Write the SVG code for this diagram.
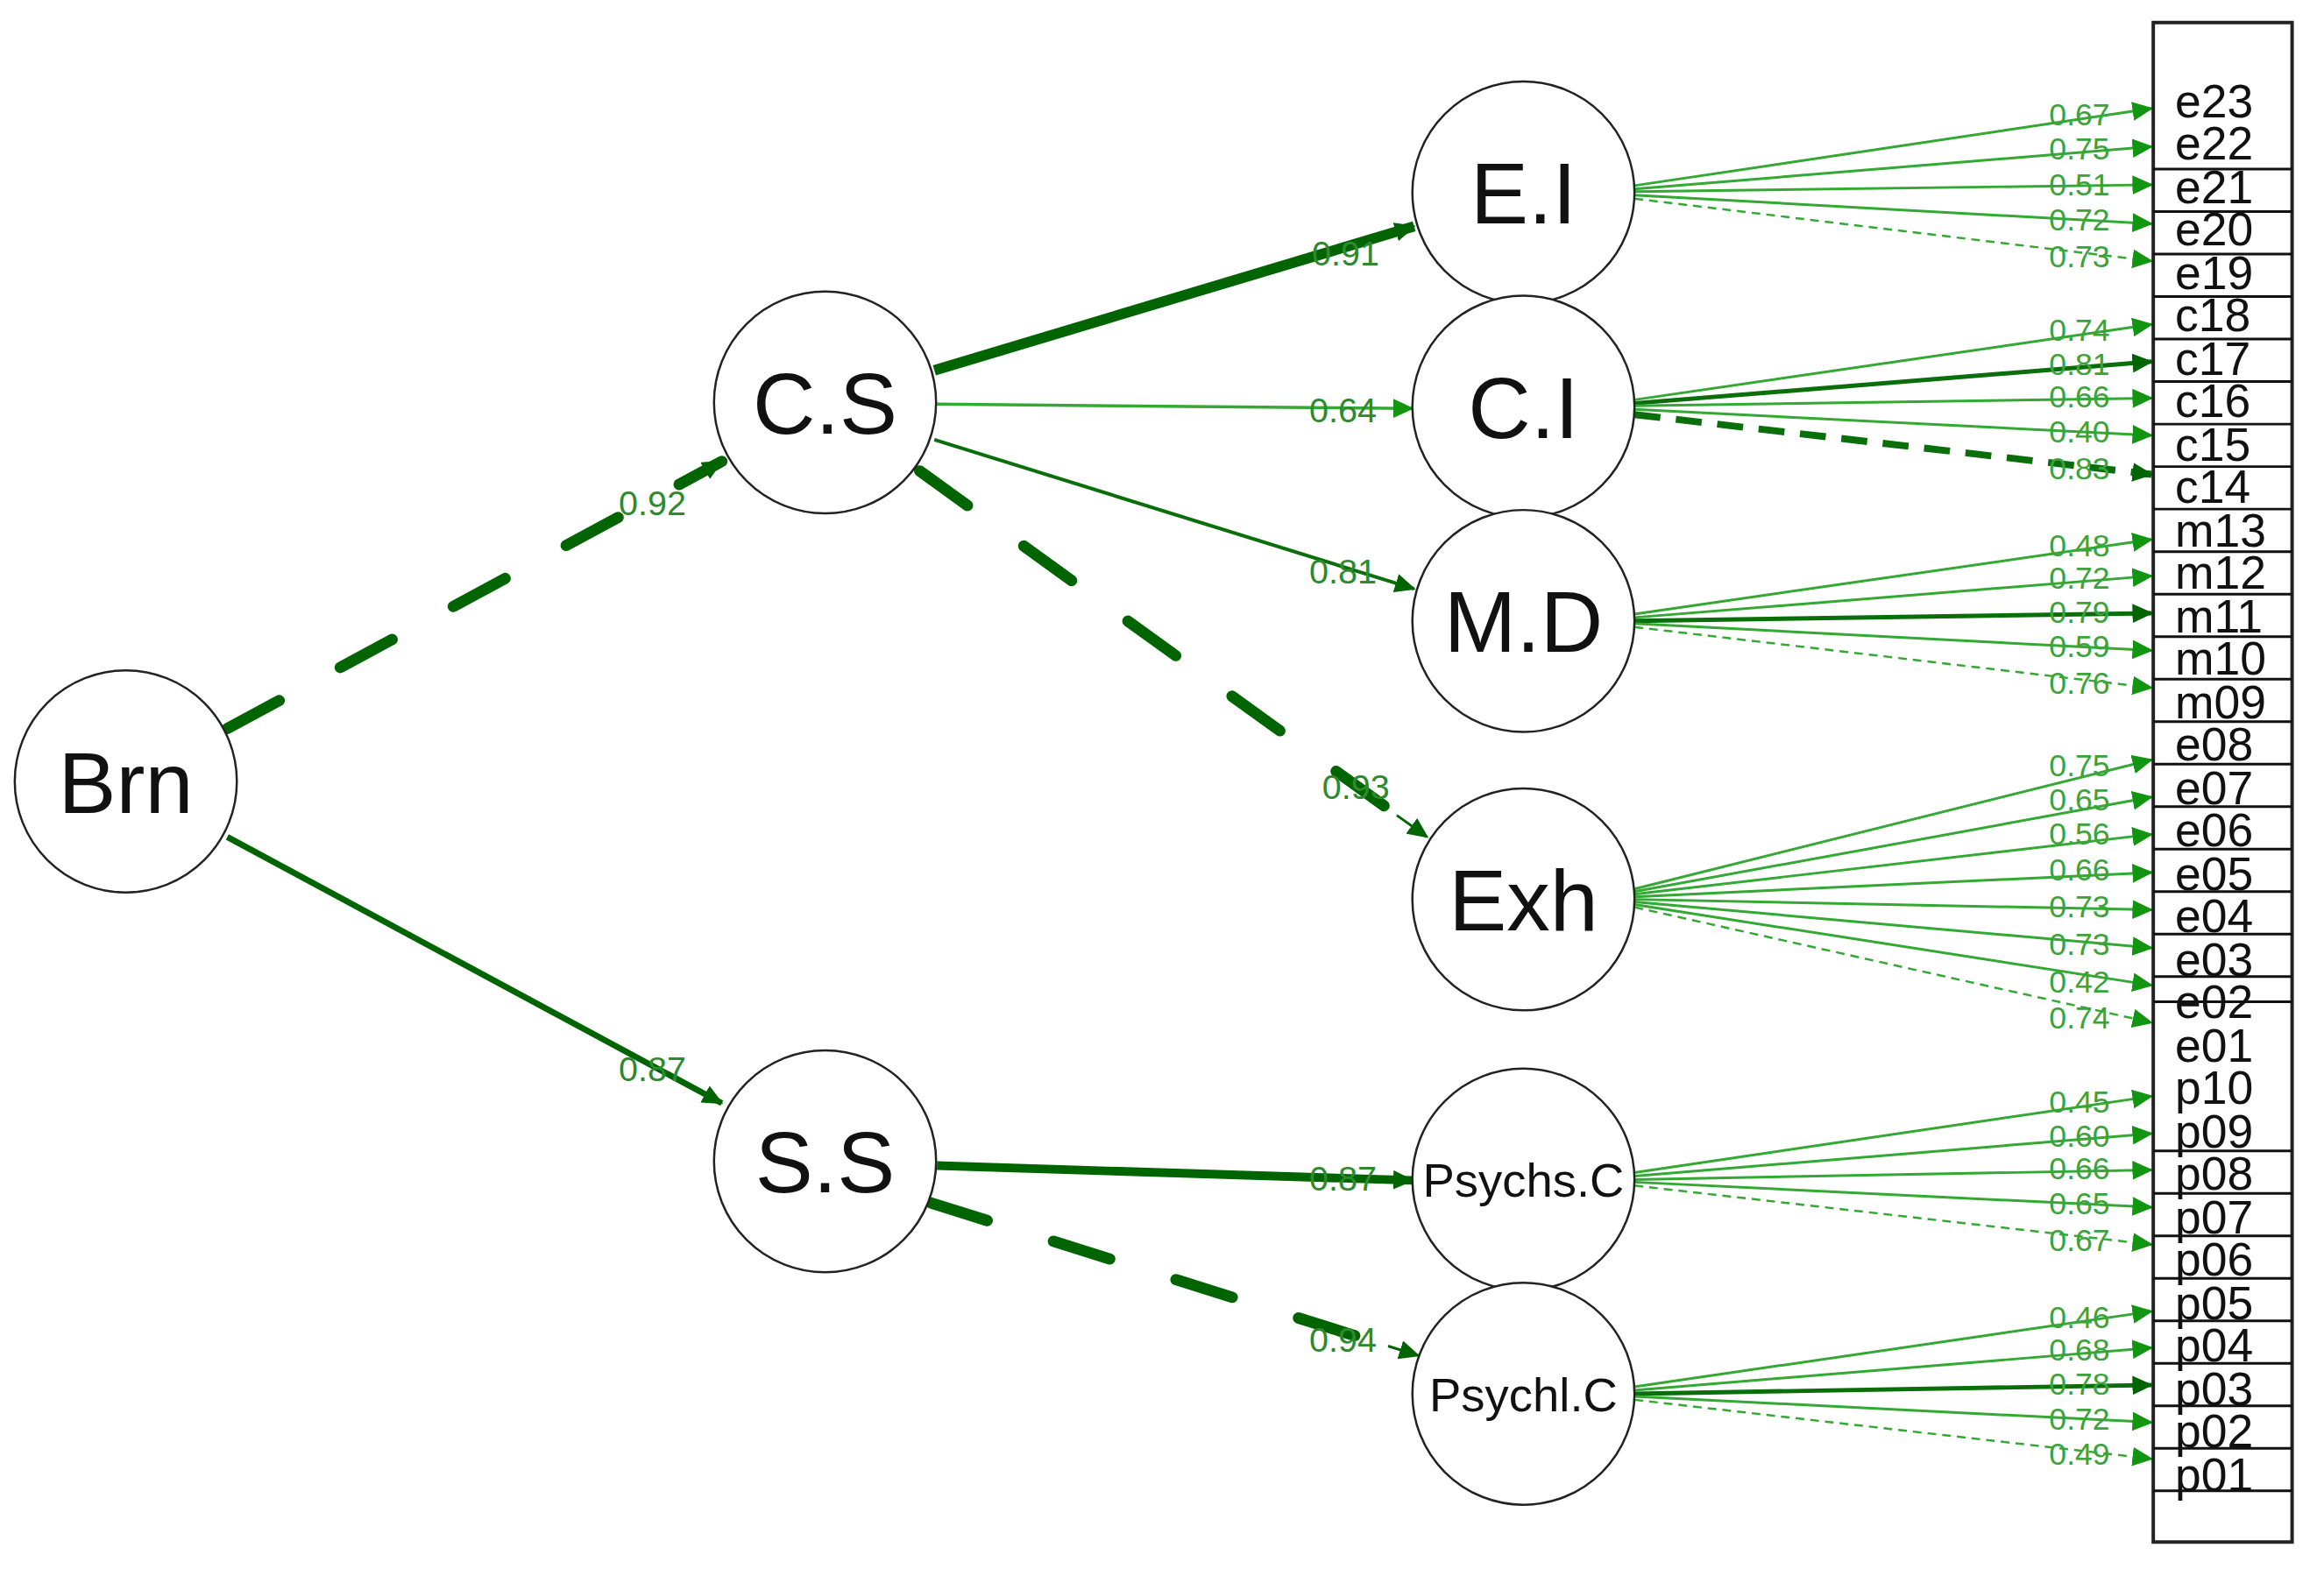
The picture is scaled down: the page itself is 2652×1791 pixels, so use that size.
<svg xmlns="http://www.w3.org/2000/svg" width="2652" height="1791" viewBox="0 0 2652 1791">
<style>
.node circle{fill:#fff;stroke:#222;stroke-width:2.5}
.node text{font-family:"Liberation Sans",Arial,sans-serif;text-anchor:middle;fill:#111}
.big{font-size:100px}
.small{font-size:55px}
.lab{font-family:"Liberation Sans",Arial,sans-serif;font-size:36px;fill:#3aa33a;text-anchor:middle}
.dlab{font-family:"Liberation Sans",Arial,sans-serif;font-size:40px;fill:#2d8a2d;text-anchor:middle}
.item{font-family:"Liberation Sans",Arial,sans-serif;font-size:54px;fill:#111}
.lt{stroke:#33a833;stroke-width:3;fill:none}
.dk{stroke:#0a6e0a;stroke-width:5;fill:none}
.ltd{stroke:#33a833;stroke-width:2.5;stroke-dasharray:10 7;fill:none}
.bx line{stroke:#111;stroke-width:3}
</style>
<defs>
<marker id="aL" markerUnits="userSpaceOnUse" markerWidth="24" markerHeight="22" refX="22" refY="11" orient="auto"><path d="M0,0 L24,11 L0,22 z" fill="#129612"/></marker>
<marker id="aD" markerUnits="userSpaceOnUse" markerWidth="24" markerHeight="22" refX="22" refY="11" orient="auto"><path d="M0,0 L24,11 L0,22 z" fill="#006400"/></marker>
</defs>
<g transform="scale(0.99)">
<g id="connectors">
<line x1="262" y1="840" x2="832" y2="532" stroke="#006400" stroke-width="13" stroke-dasharray="68 80" stroke-linecap="round"/>
<line x1="800" y1="550" x2="832" y2="532" stroke="#006400" stroke-width="3" marker-end="url(#aD)"/>
<line x1="262" y1="965" x2="832" y2="1272" stroke="#006400" stroke-width="7" marker-end="url(#aD)"/>
<line x1="1077" y1="427" x2="1630" y2="261" stroke="#006400" stroke-width="12" marker-end="url(#aD)"/>
<line x1="1080" y1="466" x2="1628" y2="471" stroke="#33a833" stroke-width="3.5" marker-end="url(#aL)"/>
<line x1="1077" y1="507" x2="1630" y2="679" stroke="#0a6e0a" stroke-width="4" marker-end="url(#aD)"/>
<line x1="1060" y1="543" x2="1645" y2="965" stroke="#006400" stroke-width="13" stroke-dasharray="68 80" stroke-linecap="round"/>
<line x1="1610" y1="940" x2="1645" y2="965" stroke="#006400" stroke-width="3" marker-end="url(#aD)"/>
<line x1="1080" y1="1344" x2="1628" y2="1361" stroke="#006400" stroke-width="10" marker-end="url(#aD)"/>
<line x1="1073" y1="1387" x2="1635" y2="1563" stroke="#006400" stroke-width="13" stroke-dasharray="68 80" stroke-linecap="round"/>
<line x1="1600" y1="1552" x2="1635" y2="1563" stroke="#006400" stroke-width="3" marker-end="url(#aD)"/>

<line class="lt" x1="1884" y1="214" x2="2480" y2="125" marker-end="url(#aL)"/>
<line class="lt" x1="1884" y1="218" x2="2480" y2="169" marker-end="url(#aL)"/>
<line class="lt" x1="1884" y1="221" x2="2480" y2="213" marker-end="url(#aL)"/>
<line class="lt" x1="1884" y1="225" x2="2480" y2="258" marker-end="url(#aL)"/>
<line class="ltd" x1="1884" y1="229" x2="2480" y2="301" marker-end="url(#aL)"/>
<line class="lt" x1="1884" y1="461" x2="2480" y2="374" marker-end="url(#aL)"/>
<line class="dk" x1="1884" y1="465" x2="2480" y2="417" marker-end="url(#aD)"/>
<line class="lt" x1="1884" y1="468" x2="2480" y2="459" marker-end="url(#aL)"/>
<line class="lt" x1="1884" y1="472" x2="2480" y2="502" marker-end="url(#aL)"/>
<line x1="1884" y1="478" x2="2480" y2="547" stroke="#0a6e0a" stroke-width="8" stroke-dasharray="30 18" marker-end="url(#aD)"/>
<line class="lt" x1="1884" y1="708" x2="2480" y2="622" marker-end="url(#aL)"/>
<line class="lt" x1="1884" y1="712" x2="2480" y2="664" marker-end="url(#aL)"/>
<line class="dk" x1="1884" y1="716" x2="2480" y2="707" marker-end="url(#aD)"/>
<line class="lt" x1="1884" y1="719" x2="2480" y2="750" marker-end="url(#aL)"/>
<line class="ltd" x1="1884" y1="723" x2="2480" y2="793" marker-end="url(#aL)"/>
<line class="lt" x1="1884" y1="1025" x2="2480" y2="876" marker-end="url(#aL)"/>
<line class="lt" x1="1884" y1="1028" x2="2480" y2="919" marker-end="url(#aL)"/>
<line class="lt" x1="1884" y1="1031" x2="2480" y2="962" marker-end="url(#aL)"/>
<line class="lt" x1="1884" y1="1034" x2="2480" y2="1006" marker-end="url(#aL)"/>
<line class="lt" x1="1884" y1="1037" x2="2480" y2="1049" marker-end="url(#aL)"/>
<line class="lt" x1="1884" y1="1040" x2="2480" y2="1093" marker-end="url(#aL)"/>
<line class="lt" x1="1884" y1="1043" x2="2480" y2="1136" marker-end="url(#aL)"/>
<line class="ltd" x1="1884" y1="1046" x2="2480" y2="1179" marker-end="url(#aL)"/>
<line class="lt" x1="1884" y1="1352" x2="2480" y2="1264" marker-end="url(#aL)"/>
<line class="lt" x1="1884" y1="1356" x2="2480" y2="1307" marker-end="url(#aL)"/>
<line class="lt" x1="1884" y1="1360" x2="2480" y2="1349" marker-end="url(#aL)"/>
<line class="lt" x1="1884" y1="1363" x2="2480" y2="1392" marker-end="url(#aL)"/>
<line class="ltd" x1="1884" y1="1367" x2="2480" y2="1435" marker-end="url(#aL)"/>
<line class="lt" x1="1884" y1="1599" x2="2480" y2="1512" marker-end="url(#aL)"/>
<line class="lt" x1="1884" y1="1603" x2="2480" y2="1554" marker-end="url(#aL)"/>
<line class="dk" x1="1884" y1="1607" x2="2480" y2="1597" marker-end="url(#aD)"/>
<line class="lt" x1="1884" y1="1610" x2="2480" y2="1640" marker-end="url(#aL)"/>
<line class="ltd" x1="1884" y1="1614" x2="2480" y2="1682" marker-end="url(#aL)"/>
</g>

<g id="edge-labels">
<text class="dlab" x="752" y="594">0.92</text>
<text class="dlab" x="752" y="1246">0.87</text>
<text class="dlab" x="1551" y="306">0.91</text>
<text class="dlab" x="1548" y="487" fill="#3aa33a">0.64</text>
<text class="dlab" x="1548" y="673">0.81</text>
<text class="dlab" x="1563" y="921">0.93</text>
<text class="dlab" x="1548" y="1373">0.87</text>
<text class="dlab" x="1548" y="1559">0.94</text>
<g class="lab">
<text x="2397" y="144">0.67</text><text x="2397" y="184">0.75</text><text x="2397" y="225">0.51</text><text x="2397" y="266">0.72</text><text x="2397" y="308">0.73</text>
<text x="2397" y="393">0.74</text><text x="2397" y="432">0.81</text><text x="2397" y="470">0.66</text><text x="2397" y="510">0.40</text><text x="2397" y="553">0.83</text>
<text x="2397" y="641">0.48</text><text x="2397" y="679">0.72</text><text x="2397" y="718">0.79</text><text x="2397" y="758">0.59</text><text x="2397" y="800">0.76</text>
<text x="2397" y="895">0.75</text><text x="2397" y="934">0.65</text><text x="2397" y="974">0.56</text><text x="2397" y="1015">0.66</text><text x="2397" y="1058">0.73</text><text x="2397" y="1101">0.73</text><text x="2397" y="1144">0.42</text><text x="2397" y="1186">0.74</text>
<text x="2397" y="1283">0.45</text><text x="2397" y="1322">0.60</text><text x="2397" y="1360">0.66</text><text x="2397" y="1400">0.65</text><text x="2397" y="1442">0.67</text>
<text x="2397" y="1531">0.46</text><text x="2397" y="1569">0.68</text><text x="2397" y="1608">0.78</text><text x="2397" y="1648">0.72</text><text x="2397" y="1689">0.49</text>
</g>
</g>

<g id="Brn" class="node"><circle cx="145" cy="901" r="128"/><text class="big" x="145" y="937">Brn</text></g>
<g id="CS" class="node"><circle cx="951" cy="464" r="128"/><text class="big" x="951" y="500">C.S</text></g>
<g id="SS" class="node"><circle cx="951" cy="1339" r="128"/><text class="big" x="951" y="1375">S.S</text></g>
<g id="EI" class="node"><circle cx="1756" cy="222" r="128"/><text class="big" x="1756" y="258">E.I</text></g>
<g id="CI" class="node"><circle cx="1756" cy="469" r="128"/><text class="big" x="1756" y="505">C.I</text></g>
<g id="MD" class="node"><circle cx="1756" cy="716" r="128"/><text class="big" x="1756" y="752">M.D</text></g>
<g id="Exh" class="node"><circle cx="1756" cy="1037" r="128"/><text class="big" x="1756" y="1073">Exh</text></g>
<g id="PsychsC" class="node"><circle cx="1756" cy="1360" r="128"/><text class="small" x="1756" y="1380">Psychs.C</text></g>
<g id="PsychlC" class="node"><circle cx="1756" cy="1607" r="128"/><text class="small" x="1756" y="1627">Psychl.C</text></g>

<g id="items" class="bx">
<rect x="2482" y="26" width="160" height="1752" fill="#fff" stroke="#222" stroke-width="4"/>
<line x1="2482" y1="195" x2="2642" y2="195"/><line x1="2482" y1="244" x2="2642" y2="244"/><line x1="2482" y1="293" x2="2642" y2="293"/><line x1="2482" y1="342" x2="2642" y2="342"/><line x1="2482" y1="391" x2="2642" y2="391"/><line x1="2482" y1="440" x2="2642" y2="440"/><line x1="2482" y1="489" x2="2642" y2="489"/><line x1="2482" y1="538" x2="2642" y2="538"/><line x1="2482" y1="587" x2="2642" y2="587"/><line x1="2482" y1="636" x2="2642" y2="636"/><line x1="2482" y1="685" x2="2642" y2="685"/><line x1="2482" y1="734" x2="2642" y2="734"/><line x1="2482" y1="783" x2="2642" y2="783"/><line x1="2482" y1="832" x2="2642" y2="832"/><line x1="2482" y1="881" x2="2642" y2="881"/><line x1="2482" y1="930" x2="2642" y2="930"/><line x1="2482" y1="979" x2="2642" y2="979"/><line x1="2482" y1="1028" x2="2642" y2="1028"/><line x1="2482" y1="1077" x2="2642" y2="1077"/><line x1="2482" y1="1126" x2="2642" y2="1126"/><line x1="2482" y1="1155" x2="2642" y2="1155"/>
<line x1="2482" y1="1327" x2="2642" y2="1327"/><line x1="2482" y1="1376" x2="2642" y2="1376"/><line x1="2482" y1="1425" x2="2642" y2="1425"/><line x1="2482" y1="1474" x2="2642" y2="1474"/><line x1="2482" y1="1523" x2="2642" y2="1523"/><line x1="2482" y1="1572" x2="2642" y2="1572"/><line x1="2482" y1="1621" x2="2642" y2="1621"/><line x1="2482" y1="1670" x2="2642" y2="1670"/><line x1="2482" y1="1719" x2="2642" y2="1719"/>
<g class="item">
<text x="2507" y="135">e23</text><text x="2507" y="184">e22</text><text x="2507" y="234">e21</text><text x="2507" y="283">e20</text><text x="2507" y="333">e19</text>
<text x="2507" y="382">c18</text><text x="2507" y="432">c17</text><text x="2507" y="481">c16</text><text x="2507" y="531">c15</text><text x="2507" y="580">c14</text>
<text x="2507" y="630">m13</text><text x="2507" y="679">m12</text><text x="2507" y="729">m11</text><text x="2507" y="778">m10</text><text x="2507" y="828">m09</text>
<text x="2507" y="877">e08</text><text x="2507" y="927">e07</text><text x="2507" y="976">e06</text><text x="2507" y="1026">e05</text><text x="2507" y="1075">e04</text><text x="2507" y="1125">e03</text><text x="2507" y="1174">e02</text><text x="2507" y="1224">e01</text>
<text x="2507" y="1273">p10</text><text x="2507" y="1323">p09</text><text x="2507" y="1372">p08</text><text x="2507" y="1422">p07</text><text x="2507" y="1471">p06</text><text x="2507" y="1521">p05</text><text x="2507" y="1570">p04</text><text x="2507" y="1620">p03</text><text x="2507" y="1669">p02</text><text x="2507" y="1719">p01</text>
</g>
</g>
</g>
</svg>
